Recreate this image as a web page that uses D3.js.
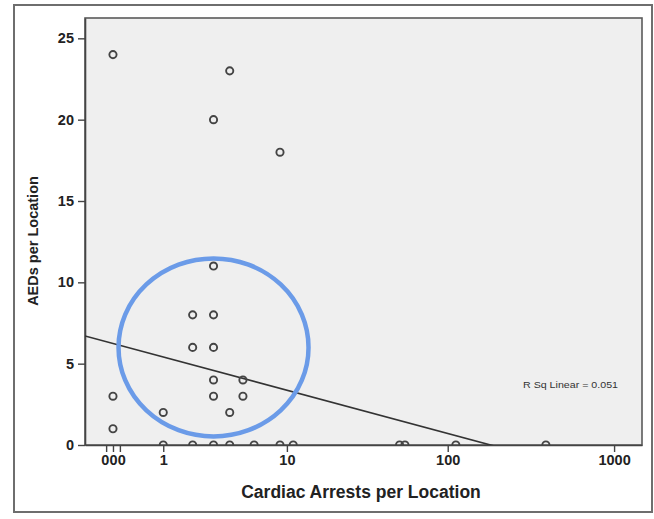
<!DOCTYPE html>
<html>
<head>
<meta charset="utf-8">
<script src="https://cdn.jsdelivr.net/npm/d3@7"></script>
<style>
	body { margin: 0; background: #fff; }
	svg { display: block; font-family: "Liberation Sans", Arial, sans-serif; }
</style>
</head>
<body>
<svg id="chart" width="654" height="519"></svg>
<script>
// Data: cardiac arrests (x) and AEDs (y) per location
var arrests = [0, 0, 0, 3, 4, 3, 9, 3, 2, 2, 3, 3, 5, 3, 5, 1, 4,
	1, 2, 3, 4, 6, 9, 11, 51, 55, 112, 390];
var aeds = [24, 3, 1, 20, 23, 11, 18, 8, 8, 6, 6, 4, 4, 3, 3, 2, 2,
	0, 0, 0, 0, 0, 0, 0, 0, 0, 0, 0];

// Axis ticks (the three crowded "0" labels near zero, as in the original)
var xTickValues = [-0.09, 0, 0.1, 1, 10, 100, 1000];
var xTickLabels = ["0", "0", "0", "1", "10", "100", "1000"];
var yTickValues = [0, 5, 10, 15, 20, 25];

// Linear fit against log10(x + 1)
var fitIntercept = 6.24,
	fitSlope = -2.76,
	rSquared = 0.051;

var svg = d3.select("#chart");

var plot = { left: 85, top: 18, right: 642, bottom: 445 };

// x is drawn on a log scale of (arrests + 1)
var xDomain = [0.68, 1471];
var x = d3.scaleLog()
	.domain(xDomain)
	.range([plot.left, plot.right]);
var xPos = function (v) { return x(v + 1); };

var y = d3.scaleLinear()
	.domain([0, 26.25])
	.range([plot.bottom, plot.top]);

// Outer frame
svg.append("rect")
	.attr("x", 14)
	.attr("y", 5)
	.attr("width", 638)
	.attr("height", 507)
	.attr("fill", "#fff")
	.attr("stroke", "#6e6e6e")
	.attr("stroke-width", 2);

// Plot background
svg.append("rect")
	.attr("x", plot.left)
	.attr("y", plot.top)
	.attr("width", plot.right - plot.left)
	.attr("height", plot.bottom - plot.top)
	.attr("fill", "#efefef")
	.attr("stroke", "#5a5a5a")
	.attr("stroke-width", 1.6);

svg.append("clipPath")
	.attr("id", "clip")
	.append("rect")
	.attr("x", plot.left)
	.attr("y", plot.top)
	.attr("width", plot.right - plot.left)
	.attr("height", plot.bottom - plot.top);

// Axes
var xAxis = d3.axisBottom(d3.scaleLinear().domain([plot.left, plot.right]).range([plot.left, plot.right]))
	.tickValues(xTickValues.map(xPos))
	.tickFormat(function (d, i) { return xTickLabels[i]; })
	.tickSize(7)
	.tickSizeOuter(0)
	.tickPadding(3);

var gx = svg.append("g")
	.attr("transform", "translate(0," + plot.bottom + ")")
	.call(xAxis);

var yAxis = d3.axisLeft(y)
	.tickValues(yTickValues)
	.tickSize(7)
	.tickSizeOuter(0)
	.tickPadding(4);

var gy = svg.append("g")
	.attr("transform", "translate(" + plot.left + ",0)")
	.call(yAxis);

[gx, gy].forEach(function (g) {
	g.select(".domain").attr("stroke", "#444").attr("stroke-width", 1.6);
	g.selectAll(".tick line").attr("stroke", "#444").attr("stroke-width", 1.4);
	g.selectAll(".tick text")
		.attr("fill", "#222")
		.attr("font-size", 14.5)
		.attr("font-weight", "bold")
		.attr("font-family", "'Liberation Sans', Arial, sans-serif");
});

// spread the three crowded zeros a little so they sit side by side
gx.selectAll(".tick text")
	.attr("dx", function (d, i) { return i == 0 ? -1.4 : (i == 2 ? 1.4 : 0); });

// Regression line
var lineG = svg.append("g").attr("clip-path", "url(#clip)");
var fitX = [xDomain[0] - 1, xDomain[1] - 1];
lineG.append("line")
	.attr("x1", xPos(fitX[0]))
	.attr("y1", y(fitIntercept + fitSlope * Math.log10(fitX[0] + 1)))
	.attr("x2", xPos(fitX[1]))
	.attr("y2", y(fitIntercept + fitSlope * Math.log10(fitX[1] + 1)))
	.attr("stroke", "#333")
	.attr("stroke-width", 1.6);

// Points
var pointsG = svg.append("g").attr("clip-path", "url(#clip)");
pointsG.selectAll("circle")
	.data(d3.range(arrests.length))
	.enter().append("circle")
	.attr("cx", function (i) { return xPos(arrests[i]); })
	.attr("cy", function (i) { return y(aeds[i]); })
	.attr("r", 3.6)
	.attr("fill", "none")
	.attr("stroke", "#444")
	.attr("stroke-width", 1.9);

// R squared label
svg.append("text")
	.attr("x", 523)
	.attr("y", 388)
	.attr("font-size", 9.5)
	.attr("fill", "#333")
	.attr("textLength", 95)
	.attr("lengthAdjust", "spacingAndGlyphs")
	.text("R Sq Linear = " + rSquared.toFixed(3));

// Axis titles
svg.append("text")
	.attr("x", 361)
	.attr("y", 498)
	.attr("text-anchor", "middle")
	.attr("font-size", 17.5)
	.attr("font-weight", "bold")
	.attr("fill", "#222")
	.text("Cardiac Arrests per Location");

svg.append("text")
	.attr("transform", "translate(38,241) rotate(-90)")
	.attr("text-anchor", "middle")
	.attr("font-size", 14.5)
	.attr("font-weight", "bold")
	.attr("fill", "#222")
	.text("AEDs per Location");

// Highlight circle
svg.append("ellipse")
	.attr("cx", xPos(3))
	.attr("cy", y(6))
	.attr("rx", 95)
	.attr("ry", 89)
	.attr("fill", "none")
	.attr("stroke", "#6b9be8")
	.attr("stroke-width", 4.5);
</script>
</body>
</html>
